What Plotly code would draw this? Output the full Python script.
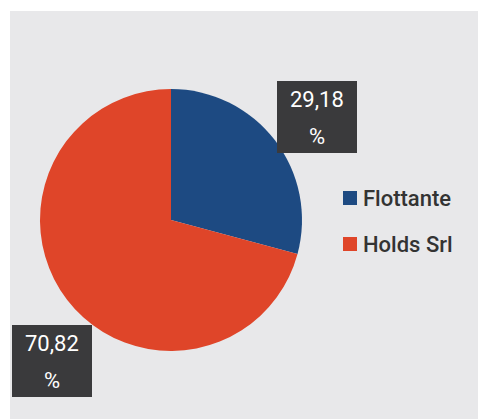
import plotly.graph_objects as go

labels = ["Flottante", "Holds Srl"]
values = [29.18, 70.82]
colors = ["#1d4a82", "#df4529"]
label_pos = [(317, 117), (52, 361)]  # label box centres (px from top-left)

W, H = 478, 419
cx, cy, r = 171, 220, 131


def px(x):
    return x / W


def py(y):
    return 1 - y / H


fig = go.Figure()
fig.add_trace(go.Pie(
    labels=labels, values=values, sort=False, direction="clockwise", rotation=0,
    marker=dict(colors=colors, line=dict(width=0)),
    textinfo="none", hoverinfo="label+percent", showlegend=False,
    domain=dict(x=[px(cx - r), px(cx + r)], y=[py(cy + r), py(cy - r)]),
))

shapes = [
    dict(type="rect", xref="paper", yref="paper", x0=px(10), x1=1, y0=0, y1=py(11),
         fillcolor="#e8e8ea", line=dict(width=0), layer="below"),
]

# data label boxes
for v, (bx, by) in zip(values, label_pos):
    shapes.append(dict(type="rect", xref="paper", yref="paper",
                       x0=px(bx - 40), x1=px(bx + 40), y0=py(by + 36), y1=py(by - 36),
                       fillcolor="#3a3a3c", line=dict(width=0)))
    fig.add_annotation(x=px(bx), y=py(by - 18), xref="paper", yref="paper",
                       xanchor="center", yanchor="middle", showarrow=False,
                       text=f"{v:.2f}".replace(".", ","),
                       font=dict(family="Roboto", size=22, color="#ffffff"))
    fig.add_annotation(x=px(bx), y=py(by + 19), xref="paper", yref="paper",
                       xanchor="center", yanchor="middle", showarrow=False,
                       text="%", font=dict(family="Roboto", size=22, color="#ffffff"))

# legend
leg_x, leg_y0, leg_dy = 343, 198, 46
for i, (lab, col) in enumerate(zip(labels, colors)):
    yy = leg_y0 + i * leg_dy
    shapes.append(dict(type="rect", xref="paper", yref="paper",
                       x0=px(leg_x), x1=px(leg_x + 14), y0=py(yy + 7), y1=py(yy - 7),
                       fillcolor=col, line=dict(width=0)))
    fig.add_annotation(x=px(leg_x + 18), y=py(yy), xref="paper", yref="paper",
                       xanchor="left", yanchor="middle", showarrow=False, text=lab,
                       font=dict(family="Roboto", size=22, color="#333333", weight=500))

fig.update_layout(
    width=W, height=H, margin=dict(l=0, r=0, t=0, b=0),
    paper_bgcolor="#ffffff", shapes=shapes, showlegend=False,
)

fig.write_html("out.html")
